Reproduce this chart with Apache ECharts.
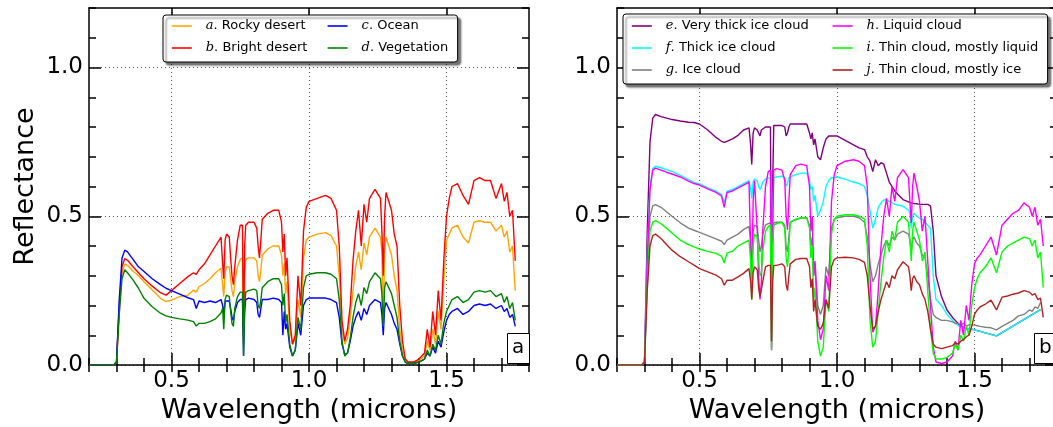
<!DOCTYPE html>
<html><head><meta charset="utf-8">
<script src="https://cdn.jsdelivr.net/npm/echarts@6/dist/echarts.min.js"></script>
<style>html,body{margin:0;padding:0;background:#fff}#c{width:1053px;height:427px}</style>
</head><body><div id="c"></div>
<script>
// ---------- data ----------
const wavelength = [
0.20,0.29,0.30,0.31,0.32,0.33,0.34,0.36,0.38,0.40,
0.43,0.46,0.48,0.50,0.53,0.56,0.58,0.59,0.60,0.62,
0.64,0.66,0.68,0.686,0.69,0.695,0.70,0.71,0.715,0.72,
0.725,0.73,0.74,0.75,0.758,0.762,0.766,0.77,0.78,0.80,
0.81,0.815,0.82,0.825,0.83,0.85,0.87,0.89,0.90,0.905,
0.91,0.915,0.92,0.93,0.94,0.95,0.96,0.97,0.98,0.99,
1.00,1.03,1.06,1.08,1.10,1.11,1.12,1.13,1.14,1.15,
1.16,1.17,1.18,1.19,1.20,1.21,1.22,1.24,1.26,1.265,
1.27,1.275,1.28,1.29,1.30,1.31,1.32,1.33,1.34,1.35,
1.36,1.38,1.40,1.42,1.43,1.44,1.45,1.46,1.47,1.48,
1.49,1.50,1.51,1.52,1.54,1.56,1.58,1.60,1.62,1.64,
1.66,1.68,1.70,1.71,1.72,1.73,1.74,1.75];

const rockyDesert = [
0,0,0.01,0.18,0.31,0.34,0.335,0.315,0.30,0.28,
0.252,0.224,0.213,0.218,0.23,0.235,0.252,0.245,0.263,0.274,
0.29,0.31,0.325,0.27,0.23,0.31,0.33,0.33,0.29,0.25,
0.23,0.28,0.33,0.355,0.36,0.07,0.30,0.355,0.36,0.36,
0.35,0.30,0.28,0.32,0.37,0.39,0.40,0.40,0.37,0.30,
0.34,0.24,0.28,0.12,0.07,0.09,0.22,0.16,0.36,0.42,
0.43,0.44,0.445,0.435,0.40,0.30,0.12,0.07,0.09,0.16,
0.25,0.33,0.38,0.32,0.41,0.37,0.43,0.46,0.43,0.38,
0.14,0.38,0.43,0.40,0.37,0.30,0.25,0.12,0.05,0.02,
0.01,0.01,0.015,0.03,0.08,0.05,0.12,0.07,0.18,0.12,
0.28,0.42,0.44,0.46,0.47,0.43,0.41,0.48,0.485,0.48,
0.48,0.45,0.47,0.43,0.45,0.38,0.40,0.25];

const brightDesert = [
0,0,0.01,0.20,0.33,0.358,0.352,0.33,0.31,0.29,
0.265,0.243,0.235,0.25,0.274,0.297,0.31,0.305,0.32,0.34,
0.37,0.40,0.43,0.34,0.29,0.42,0.44,0.43,0.36,0.30,
0.27,0.33,0.42,0.47,0.47,0.10,0.40,0.47,0.48,0.48,
0.46,0.40,0.36,0.42,0.49,0.51,0.52,0.52,0.48,0.38,
0.44,0.30,0.36,0.15,0.07,0.10,0.30,0.20,0.45,0.53,
0.55,0.56,0.57,0.56,0.52,0.40,0.15,0.08,0.12,0.20,
0.35,0.45,0.52,0.40,0.54,0.48,0.56,0.59,0.56,0.45,
0.30,0.50,0.58,0.55,0.52,0.44,0.40,0.20,0.08,0.02,
0.01,0.01,0.02,0.04,0.12,0.06,0.18,0.10,0.25,0.15,
0.35,0.50,0.56,0.60,0.61,0.57,0.54,0.62,0.63,0.62,
0.62,0.56,0.61,0.55,0.58,0.50,0.52,0.35];

const ocean = [
0,0,0.01,0.22,0.36,0.386,0.38,0.355,0.33,0.314,
0.29,0.27,0.258,0.25,0.238,0.226,0.22,0.19,0.215,0.21,
0.215,0.21,0.22,0.20,0.17,0.215,0.22,0.215,0.19,0.16,
0.15,0.18,0.21,0.22,0.22,0.03,0.18,0.22,0.225,0.22,
0.21,0.17,0.16,0.19,0.22,0.22,0.225,0.22,0.21,0.10,
0.18,0.12,0.14,0.06,0.03,0.05,0.14,0.10,0.20,0.22,
0.225,0.225,0.225,0.22,0.21,0.16,0.07,0.035,0.04,0.08,
0.13,0.16,0.18,0.15,0.19,0.17,0.20,0.22,0.21,0.17,
0.10,0.19,0.21,0.19,0.17,0.14,0.12,0.07,0.03,0.01,
0.005,0.005,0.01,0.02,0.04,0.03,0.06,0.04,0.08,0.06,
0.11,0.15,0.17,0.18,0.19,0.17,0.18,0.20,0.205,0.20,
0.205,0.19,0.20,0.18,0.19,0.16,0.17,0.13];

const vegetation = [
0,0,0.01,0.17,0.29,0.32,0.31,0.286,0.258,0.224,
0.196,0.174,0.165,0.16,0.155,0.151,0.146,0.131,0.14,0.14,
0.146,0.155,0.175,0.19,0.12,0.22,0.235,0.23,0.18,0.14,
0.13,0.19,0.23,0.245,0.245,0.03,0.20,0.245,0.25,0.255,
0.25,0.20,0.19,0.22,0.26,0.28,0.29,0.29,0.27,0.20,
0.24,0.14,0.17,0.07,0.03,0.05,0.16,0.12,0.26,0.30,
0.305,0.31,0.31,0.305,0.29,0.22,0.08,0.03,0.04,0.09,
0.16,0.21,0.24,0.20,0.26,0.24,0.28,0.31,0.29,0.24,
0.13,0.26,0.28,0.26,0.24,0.20,0.16,0.08,0.03,0.01,
0.005,0.005,0.01,0.02,0.05,0.03,0.07,0.05,0.10,0.07,
0.14,0.18,0.20,0.22,0.23,0.21,0.22,0.245,0.25,0.245,
0.25,0.23,0.24,0.21,0.23,0.19,0.21,0.15];

const veryThickIce = [
0,0,0.01,0.45,0.75,0.83,0.842,0.835,0.83,0.825,
0.82,0.816,0.815,0.81,0.79,0.765,0.752,0.748,0.752,0.76,
0.772,0.79,0.797,0.74,0.674,0.78,0.797,0.79,0.78,0.77,
0.79,0.795,0.80,0.80,0.80,0.20,0.60,0.805,0.805,0.805,
0.80,0.77,0.78,0.80,0.81,0.81,0.81,0.81,0.78,0.76,
0.78,0.74,0.76,0.70,0.69,0.73,0.76,0.77,0.77,0.77,
0.77,0.755,0.74,0.73,0.724,0.70,0.685,0.65,0.69,0.67,
0.68,0.675,0.645,0.615,0.60,0.585,0.575,0.556,0.548,0.545,
0.545,0.545,0.543,0.542,0.54,0.54,0.54,0.54,0.535,0.45,
0.30,0.23,0.185,0.16,0.15,0.14,0.13,0.126,0.123,0.121,
0.12,0.118,null,null,null,null,0.098,null,null,null,
null,null,null,null,null,null,0.186,null];

const thickIce = [
0,0,0.01,0.36,0.60,0.66,0.668,0.663,0.657,0.651,
0.637,0.623,0.614,0.609,0.595,0.584,0.573,0.545,0.584,0.59,
0.60,0.61,0.62,0.59,0.56,0.615,0.625,0.62,0.60,0.59,
0.60,0.615,0.625,0.628,0.63,0.15,0.50,0.63,0.632,0.635,
0.63,0.60,0.61,0.63,0.635,0.64,0.645,0.645,0.62,0.59,
0.60,0.55,0.57,0.50,0.52,0.55,0.60,0.62,0.63,0.63,
0.632,0.625,0.615,0.61,0.60,0.57,0.52,0.46,0.49,0.53,
0.545,0.555,0.556,0.55,0.545,0.54,0.538,0.534,0.52,0.51,
0.46,0.50,0.51,0.50,0.494,0.49,0.48,0.47,0.46,0.30,
0.22,0.20,0.17,0.15,0.14,0.133,0.128,0.125,0.123,0.121,
0.12,0.118,null,null,null,null,0.098,null,null,null,
null,null,null,null,null,null,0.186,null];

const iceCloud = [
0,0,0.01,0.30,0.50,0.535,0.539,0.53,0.515,0.50,
0.478,0.46,0.453,0.446,0.435,0.424,0.416,0.405,0.42,0.43,
0.44,0.455,0.466,0.42,0.30,0.45,0.47,0.465,0.42,0.38,
0.40,0.44,0.47,0.475,0.478,0.06,0.40,0.478,0.48,0.48,
0.47,0.40,0.38,0.43,0.48,0.488,0.494,0.494,0.47,0.40,
0.43,0.30,0.34,0.20,0.17,0.20,0.33,0.30,0.46,0.49,
0.495,0.50,0.50,0.495,0.48,0.43,0.34,0.28,0.30,0.34,
0.37,0.40,0.42,0.40,0.43,0.42,0.44,0.45,0.44,0.42,
0.38,0.42,0.43,0.41,0.40,0.37,0.36,0.30,0.22,0.17,
0.16,0.15,0.15,0.145,0.14,0.14,0.135,0.14,0.13,0.135,
0.135,0.134,0.132,0.13,0.127,0.125,0.118,0.13,0.14,0.15,
0.165,0.17,0.185,0.18,0.195,0.19,0.21,null];

const liquidCloud = [
0,0,0.01,0.35,0.59,0.655,0.662,0.655,0.648,0.642,
0.632,0.618,0.61,0.605,0.592,0.58,0.568,0.53,0.58,0.585,
0.595,0.605,0.615,0.40,0.25,0.55,0.62,0.45,0.30,0.22,
0.28,0.45,0.60,0.65,0.655,0.05,0.45,0.655,0.66,0.655,
0.62,0.50,0.455,0.55,0.64,0.67,0.675,0.67,0.60,0.45,
0.50,0.30,0.35,0.15,0.085,0.12,0.30,0.25,0.55,0.64,
0.67,0.685,0.69,0.685,0.67,0.60,0.30,0.11,0.13,0.25,
0.40,0.50,0.56,0.50,0.60,0.55,0.63,0.657,0.63,0.55,
0.477,0.60,0.645,0.60,0.55,0.45,0.50,0.35,0.20,0.06,
0.01,0.005,0.01,0.03,0.08,0.05,0.15,0.10,0.20,0.15,
0.27,0.34,0.36,0.37,0.40,0.43,0.37,0.47,0.49,0.51,
0.52,0.545,0.53,0.50,0.53,0.47,0.49,0.40];

const thinLiquid = [
0,0,0.01,0.27,0.45,0.48,0.485,0.475,0.46,0.444,
0.42,0.405,0.397,0.39,0.382,0.375,0.366,0.343,0.377,0.382,
0.40,0.41,0.42,0.35,0.22,0.40,0.44,0.43,0.35,0.30,
0.31,0.38,0.45,0.465,0.47,0.05,0.40,0.47,0.475,0.48,
0.46,0.36,0.33,0.40,0.48,0.49,0.495,0.495,0.46,0.36,
0.40,0.22,0.26,0.08,0.03,0.06,0.22,0.18,0.44,0.49,
0.50,0.505,0.505,0.50,0.49,0.40,0.15,0.06,0.08,0.18,
0.28,0.36,0.42,0.38,0.45,0.42,0.48,0.50,0.48,0.42,
0.35,0.45,0.48,0.45,0.42,0.35,0.38,0.25,0.12,0.04,
0.02,0.02,0.025,0.04,0.07,0.05,0.10,0.08,0.13,0.10,
0.20,0.26,0.29,0.31,0.33,0.36,0.31,0.38,0.40,0.41,
0.42,0.43,0.425,0.40,0.42,0.36,0.38,0.26];

const thinIce = [
0,0,0.01,0.25,0.40,0.435,0.44,0.425,0.405,0.386,
0.364,0.347,0.336,0.324,0.313,0.302,0.29,0.268,0.285,0.285,
0.296,0.308,0.324,0.28,0.22,0.31,0.33,0.32,0.26,0.23,
0.23,0.28,0.33,0.335,0.335,0.08,0.28,0.335,0.335,0.34,
0.33,0.27,0.25,0.30,0.34,0.355,0.358,0.358,0.33,0.26,
0.29,0.18,0.22,0.13,0.12,0.14,0.22,0.19,0.33,0.355,
0.36,0.362,0.36,0.355,0.345,0.30,0.20,0.12,0.13,0.18,
0.22,0.25,0.28,0.26,0.30,0.29,0.32,0.347,0.33,0.30,
0.25,0.29,0.30,0.28,0.27,0.24,0.22,0.18,0.12,0.07,
0.06,0.055,0.06,0.065,0.075,0.07,0.08,0.085,0.095,0.10,
0.13,0.17,0.185,0.195,0.205,0.218,0.185,0.228,0.232,0.238,
0.242,0.25,0.245,0.235,0.24,0.22,0.225,0.16];

const xTicks = [0.5, 1.0, 1.5];
const yTicks = [0.0, 0.5, 1.0];
const panelLabels = ['a', 'b'];
const axisTitleX = 'Wavelength (microns)';
const axisTitleY = 'Reflectance';

const namesA = ['a. Rocky desert', 'b. Bright desert', 'c. Ocean', 'd. Vegetation'];
const valuesA = [rockyDesert, brightDesert, ocean, vegetation];
const namesB = ['e. Very thick ice cloud', 'f. Thick ice cloud', 'g. Ice cloud',
                'h. Liquid cloud', 'i. Thin cloud, mostly liquid', 'j. Thin cloud, mostly ice'];
const valuesB = [veryThickIce, thickIce, iceCloud, liquidCloud, thinLiquid, thinIce];

// ---------- styles ----------
const colorsA = ['#ffa500', '#ff0000', '#0000ff', '#008000'];
const colorsB = ['#800080', '#00ffff', '#808080', '#ff00ff', '#00ff00', '#b22222'];
const FONT = 'DejaVu Sans';

function pts(vals) { return wavelength.map((w, i) => [w, vals[i] == null ? null : vals[i]]); }

const G = {top: 8, width: 440, height: 357, containLabel: false, outerBoundsMode: 'none'};
const grids = [
  Object.assign({left: 89}, G), Object.assign({left: 617}, G),
  Object.assign({left: 89}, G), Object.assign({left: 617}, G)
];

const black = {color: '#000', width: 1.5};
function majorX(gi, pos, main) {
  return {type: 'value', gridIndex: gi, position: pos, min: 0.2, max: 1.8,
    axisLine: {show: true, onZero: false, lineStyle: black},
    axisTick: {show: true, inside: true, length: 12, customValues: xTicks, lineStyle: black},
    axisLabel: {show: main, customValues: xTicks, formatter: v => Number(v).toFixed(1),
      fontFamily: FONT, fontSize: 23, color: '#000', margin: 5},
    splitLine: {show: main, lineStyle: {color: '#555', type: [1, 3], width: 1}},
    name: main ? axisTitleX : '', nameLocation: 'middle', nameGap: 26,
    nameTextStyle: {fontFamily: FONT, fontSize: 27, color: '#000'}};
}
function minorX(gi, pos) {
  return {type: 'value', gridIndex: gi, position: pos, min: 0.2, max: 1.8, interval: 0.1,
    axisLine: {show: false}, axisTick: {show: true, inside: true, length: 7, lineStyle: black},
    axisLabel: {show: false}, splitLine: {show: false}};
}
function majorY(gi, pos, main, title) {
  return {type: 'value', gridIndex: gi, position: pos, min: 0, max: 1.2,
    axisLine: {show: true, onZero: false, lineStyle: black},
    axisTick: {show: true, inside: true, length: 12, customValues: yTicks, lineStyle: black},
    axisLabel: {show: main, customValues: yTicks, formatter: v => Number(v).toFixed(1),
      fontFamily: FONT, fontSize: 23, color: '#000', margin: 6},
    splitLine: {show: main, lineStyle: {color: '#555', type: [1, 3], width: 1}},
    name: title || '', nameLocation: 'middle', nameGap: 50, nameRotate: 90,
    nameTextStyle: {fontFamily: FONT, fontSize: 27, color: '#000'}};
}
function minorY(gi, pos) {
  return {type: 'value', gridIndex: gi, position: pos, min: 0, max: 1.2, interval: 0.1,
    axisLine: {show: false}, axisTick: {show: true, inside: true, length: 7, lineStyle: black},
    axisLabel: {show: false}, splitLine: {show: false}};
}

const xAxis = [majorX(0, 'bottom', true), majorX(0, 'top', false),
               majorX(1, 'bottom', true), majorX(1, 'top', false),
               minorX(2, 'bottom'), minorX(2, 'top'), minorX(3, 'bottom'), minorX(3, 'top')];
const yAxis = [majorY(0, 'left', true, axisTitleY), majorY(0, 'right', false),
               majorY(1, 'left', true), majorY(1, 'right', false),
               minorY(2, 'left'), minorY(2, 'right'), minorY(3, 'left'), minorY(3, 'right')];

const series = [];
namesA.forEach((n, i) => series.push({type: 'line', name: n, xAxisIndex: 0, yAxisIndex: 0,
  data: pts(valuesA[i]), symbol: 'none', showSymbol: false, connectNulls: true,
  lineStyle: {color: colorsA[i], width: 1.4}, itemStyle: {color: colorsA[i]}}));
namesB.forEach((n, i) => series.push({type: 'line', name: n, xAxisIndex: 2, yAxisIndex: 2,
  data: pts(valuesB[i]), symbol: 'none', showSymbol: false, connectNulls: true,
  lineStyle: {color: colorsB[i], width: 1.4}, itemStyle: {color: colorsB[i]}}));

const legendText = {fontFamily: FONT, fontSize: 13, color: '#000', lineHeight: 14,
  padding: [0, 0, 0, 9],
  rich: {i: {fontFamily: 'DejaVu Serif', fontStyle: 'italic', fontSize: 13, lineHeight: 14, color: '#000'}}};
const legendBase = {orient: 'horizontal', selectedMode: false, itemWidth: 20, itemHeight: 14,
  itemGap: 8, backgroundColor: '#fff', borderColor: '#000', borderWidth: 1, borderRadius: 3,
  shadowColor: 'rgba(0,0,0,0.55)', shadowBlur: 2, shadowOffsetX: 3, shadowOffsetY: 3,
  itemStyle: {opacity: 0, borderWidth: 0},
  lineStyle: {width: 1.6}, textStyle: legendText,
  formatter: n => '{i|' + n.charAt(0) + '}' + n.slice(1)};

const legends = [
  Object.assign({}, legendBase, {left: 163, top: 15, width: 285, padding: [4, 6, 7, 8],
    data: [{name: namesA[0], textStyle: {width: 113}}, {name: namesA[2], textStyle: {width: 90}},
           {name: namesA[1], textStyle: {width: 113}}, {name: namesA[3], textStyle: {width: 90}}]}),
  Object.assign({}, legendBase, {left: 623, top: 14, width: 420, padding: [5, 3, 7, 8],
    data: [{name: namesB[0], textStyle: {width: 158}}, {name: namesB[3], textStyle: {width: 178}},
           {name: namesB[1], textStyle: {width: 158}}, {name: namesB[4], textStyle: {width: 178}},
           {name: namesB[2], textStyle: {width: 158}}, {name: namesB[5], textStyle: {width: 178}}]})
];

const boxTitle = {padding: [5, 5, 6, 5], borderWidth: 1, borderColor: '#000', backgroundColor: '#fff',
  textStyle: {fontFamily: FONT, fontSize: 20, fontWeight: 'normal', color: '#000'}};
const titles = [
  Object.assign({}, boxTitle, {text: panelLabels[0], left: 507, top: 333}),
  Object.assign({}, boxTitle, {text: panelLabels[1], left: 1034, top: 333})
];

const chart = echarts.init(document.getElementById('c'), null, {renderer: 'canvas'});
chart.setOption({
  animation: false, backgroundColor: '#fff',
  title: titles, legend: legends, grid: grids, xAxis: xAxis, yAxis: yAxis, series: series
});
</script></body></html>
